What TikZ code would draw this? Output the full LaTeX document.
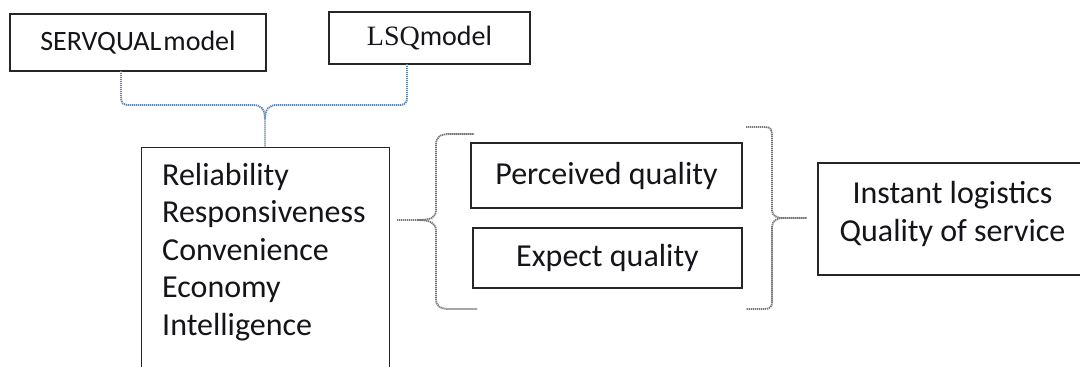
\documentclass[tikz,border=0pt]{standalone}
\usepackage{fontspec}
\setmainfont{Carlito}
\newfontfamily\lsqfont{Liberation Serif}
\definecolor{bluebr}{RGB}{95,130,180}
\definecolor{greybr}{RGB}{120,120,120}
\definecolor{ink}{RGB}{20,20,25}
\begin{document}
\begin{tikzpicture}[x=1pt,y=-1pt,
  box/.style={draw=black!85,line width=1.3pt,rectangle,inner sep=0pt,text=ink},
  bluebrace/.style={draw=bluebr,line width=1.9pt,dash pattern=on 1.2pt off 0.8pt},
  greybrace/.style={draw=greybr,line width=1.8pt,dash pattern=on 1.3pt off 0.7pt},
  big/.style={font=\fontsize{32}{37.5}\selectfont,text=ink,inner sep=0pt},
  small/.style={font=\fontsize{28}{32}\selectfont}
]
\clip (0,0) rectangle (1080,367);
\fill[white] (0,0) rectangle (1080,367);

% top boxes
\node[box,small,minimum width=256pt,minimum height=57pt] (servq) at (138,42.5) {SERVQUAL\hspace{2pt}model};
\node[box,small,minimum width=201pt,minimum height=52pt] (lsq) at (429.5,38) {{\lsqfont LSQ}model};

% main box
\node[box,anchor=north west,minimum width=248pt,minimum height=260pt] (main) at (141,147) {};
\node[big,anchor=base west] (t1) at (162,185) {Reliability};
\node[big,anchor=base west] (t2) at (162,222.5) {Responsiveness};
\node[big,anchor=base west] (t3) at (162,260) {Convenience};
\node[big,anchor=base west] (t4) at (162,297.5) {Economy};
\node[big,anchor=base west] (t5) at (162,335) {Intelligence};

% quality boxes
\node[box,big,minimum width=271pt,minimum height=65pt] (perc) at (606.5,175.5) {Perceived quality};
\node[box,big,minimum width=269pt,minimum height=60pt] (expq) at (607.5,258) {Expect quality};

% instant box
\node[box,minimum width=269pt,minimum height=112pt] (inst) at (952.5,219) {};
\node[big,align=center] (insttext) at (952.5,214) {Instant logistics\\Quality of service};

% brace anchor points
\coordinate (sa) at (121,71);
\coordinate (la) at (407,64);
\coordinate (ma) at (265,147);
\coordinate (ltip) at (397,220);
\coordinate (rtip) at (807,218);

% blue dotted brace from the two models to the main box
\draw[bluebrace] (sa) -- (121,96) .. controls (121,104) and (123,105) .. (130,105) -- (253,105)
  .. controls (261,105) and (265,109) .. (265,119) -- (ma);
\draw[bluebrace] (la) -- (407,96) .. controls (407,104) and (405,105) .. (398,105) -- (277,105)
  .. controls (269,105) and (265,109) .. (265,119);

% left grey brace
\draw[greybrace] (ltip) -- (418,220) .. controls (430,220) and (436,218) .. (436,210) -- (436,145)
  .. controls (436,137) and (440,134) .. (450,134) -- (474,134);
\draw[greybrace] (418,220) .. controls (430,220) and (436,223) .. (436,231) -- (436,299)
  .. controls (436,306) and (440,309) .. (450,309) -- (477,309);

% right grey brace
\draw[greybrace] (746,127) -- (765,127) .. controls (770,127) and (772,129) .. (772,135) -- (772,210)
  .. controls (772,216) and (776,218) .. (784,218) -- (rtip);
\draw[greybrace] (784,218) .. controls (776,218) and (772,221) .. (772,227) -- (772,302)
  .. controls (772,307) and (770,309) .. (764,309) -- (746,309);
\end{tikzpicture}
\end{document}
